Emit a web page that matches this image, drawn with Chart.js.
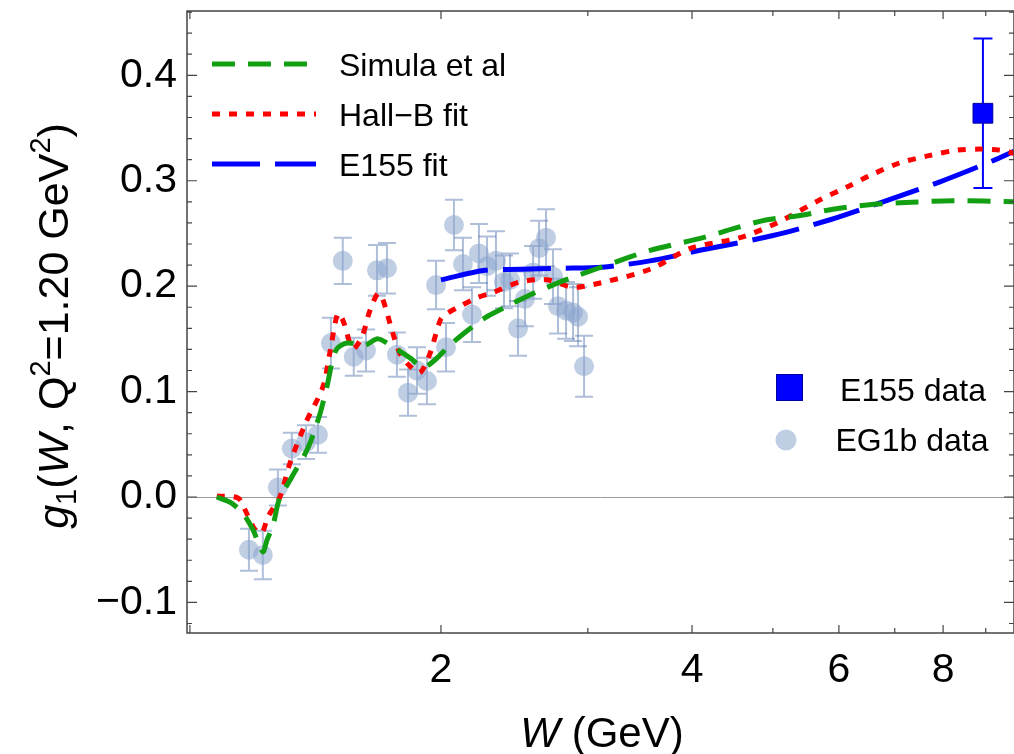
<!DOCTYPE html>
<html>
<head>
<meta charset="utf-8">
<script src="https://cdn.jsdelivr.net/npm/chart.js@4.4.0/dist/chart.umd.min.js"></script>
<style>
  html, body { margin: 0; padding: 0; background: #fff; }
  canvas { display: block; }
</style>
</head>
<body>
<canvas id="chart" width="1014" height="754"></canvas>
<script>
const FONT = '"Liberation Sans", Arial, sans-serif';

// EG1b data (W in GeV, g1, stat error)
const eg1bW = [1.177, 1.223, 1.275, 1.325, 1.378, 1.424, 1.476, 1.525, 1.572, 1.626,
  1.676, 1.723, 1.771, 1.826, 1.872, 1.924, 1.973, 2.028, 2.073, 2.125,
  2.179, 2.221, 2.271, 2.328, 2.380, 2.420, 2.474, 2.522, 2.579, 2.622,
  2.673, 2.725, 2.763, 2.825, 2.880, 2.920, 2.969];
const eg1bG1 = [-0.050, -0.055, 0.009, 0.046, 0.052, 0.059, 0.146, 0.224, 0.133, 0.139,
  0.215, 0.217, 0.135, 0.099, 0.120, 0.110, 0.201, 0.142, 0.258, 0.221,
  0.173, 0.231, 0.219, 0.224, 0.204, 0.206, 0.160, 0.188, 0.213, 0.236,
  0.246, 0.209, 0.181, 0.177, 0.175, 0.171, 0.124];
const eg1bErr = [0.020, 0.023, 0.017, 0.015, 0.016, 0.017, 0.024, 0.022, 0.018, 0.020,
  0.024, 0.024, 0.021, 0.022, 0.022, 0.022, 0.023, 0.023, 0.024, 0.025,
  0.026, 0.028, 0.028, 0.028, 0.025, 0.025, 0.026, 0.026, 0.025, 0.026,
  0.027, 0.026, 0.026, 0.027, 0.027, 0.028, 0.029];

// E155 data
const e155W = [8.93];
const e155G1 = [0.364];
const e155Err = [0.071];

// model curves
const simulaW = [1.077, 1.123, 1.161, 1.190, 1.223, 1.237, 1.258, 1.279, 1.325, 1.386,
  1.431, 1.459, 1.496, 1.543, 1.621, 1.681, 1.761, 1.836, 1.903, 1.967,
  2.050, 2.137, 2.258, 2.387, 2.579, 2.801, 3.086, 3.351, 3.562, 4.123,
  4.504, 4.920, 5.389, 5.904, 6.485, 7.102, 8.222, 9.73];
const simulaG1 = [0.000, -0.006, -0.017, -0.031, -0.052, -0.041, -0.027, -0.003, 0.019, 0.047,
  0.078, 0.104, 0.139, 0.146, 0.144, 0.150, 0.141, 0.132, 0.123, 0.130,
  0.144, 0.156, 0.170, 0.180, 0.193, 0.205, 0.217, 0.227, 0.234, 0.246,
  0.255, 0.263, 0.267, 0.273, 0.277, 0.279, 0.281, 0.280];

const hallBW = [1.077, 1.142, 1.164, 1.197, 1.220, 1.240, 1.282, 1.318, 1.378, 1.443,
  1.471, 1.504, 1.525, 1.568, 1.608, 1.644, 1.681, 1.704, 1.747, 1.786,
  1.836, 1.887, 1.940, 1.997, 2.033, 2.096, 2.209, 2.309, 2.488, 2.680,
  2.880, 3.103, 3.562, 3.989, 4.566, 5.058, 5.695, 6.137, 6.539, 7.102,
  7.716, 8.314, 8.858, 9.361, 9.73];
const hallBG1 = [0.001, -0.001, -0.012, -0.031, -0.034, -0.019, 0.000, 0.032, 0.071, 0.104,
  0.136, 0.174, 0.168, 0.141, 0.152, 0.177, 0.193, 0.187, 0.158, 0.136,
  0.124, 0.118, 0.136, 0.168, 0.174, 0.180, 0.189, 0.194, 0.204, 0.206,
  0.199, 0.203, 0.216, 0.236, 0.246, 0.260, 0.282, 0.294, 0.305, 0.317,
  0.324, 0.329, 0.330, 0.329, 0.326];

const e155FitW = [2.000, 2.258, 2.488, 2.778, 3.120, 3.562, 4.089, 5.002, 5.855, 6.777,
  7.932, 9.181, 9.73];
const e155FitG1 = [0.206, 0.215, 0.216, 0.217, 0.218, 0.224, 0.234, 0.248, 0.263, 0.280,
  0.299, 0.319, 0.328];

// axes
const xTicks = [2, 4, 6, 8];
const xTickMarks = [1, 2, 4, 6, 8];
const xMinorMarks = [3, 5, 7, 9];
const yTicks = [-0.1, 0.0, 0.1, 0.2, 0.3, 0.4];
const yMinorStep = 0.02;

function pts(xs, ys) {
  return xs.map((x, i) => ({ x: x, y: ys[i] }));
}

const errorBars = {
  id: 'errorBars',
  beforeDatasetsDraw(chart) {
    const { ctx, chartArea, scales: { x, y } } = chart;
    ctx.save();
    // zero line
    ctx.strokeStyle = '#9a9a9a';
    ctx.lineWidth = 1;
    ctx.beginPath();
    ctx.moveTo(chartArea.left, Math.round(y.getPixelForValue(0)) + 0.5);
    ctx.lineTo(chartArea.right, Math.round(y.getPixelForValue(0)) + 0.5);
    ctx.stroke();

    const draw = (ws, vs, es, color, width, cap) => {
      ctx.strokeStyle = color;
      ctx.lineWidth = width;
      ws.forEach((w, i) => {
        const px = x.getPixelForValue(w);
        const top = y.getPixelForValue(vs[i] + es[i]);
        const bot = y.getPixelForValue(vs[i] - es[i]);
        ctx.beginPath();
        ctx.moveTo(px, top); ctx.lineTo(px, bot);
        ctx.moveTo(px - cap, top); ctx.lineTo(px + cap, top);
        ctx.moveTo(px - cap, bot); ctx.lineTo(px + cap, bot);
        ctx.stroke();
      });
    };
    draw(eg1bW, eg1bG1, eg1bErr, 'rgba(95,125,180,0.5)', 2, 9);
    draw(e155W, e155G1, e155Err, '#0000ff', 2, 9.5);
    ctx.restore();
  }
};

const frame = {
  id: 'frame',
  afterDatasetsDraw(chart) {
    const { ctx, chartArea: a, scales: { x, y } } = chart;
    ctx.save();
    ctx.strokeStyle = '#444';
    ctx.lineWidth = 1.5;
    ctx.strokeRect(a.left, a.top, a.right - a.left, a.bottom - a.top);
    ctx.lineWidth = 1.2;
    ctx.beginPath();
    const xMark = (v, len) => {
      const px = x.getPixelForValue(v);
      ctx.moveTo(px, a.bottom); ctx.lineTo(px, a.bottom - len);
      ctx.moveTo(px, a.top); ctx.lineTo(px, a.top + len);
    };
    xTickMarks.forEach(v => xMark(v, 8));
    xMinorMarks.forEach(v => xMark(v, 5));
    for (let k = -6; k <= 23; k++) {
      const v = k * yMinorStep;
      const py = y.getPixelForValue(v);
      const len = (k % 5 === 0) ? 10 : 5;
      ctx.moveTo(a.left, py); ctx.lineTo(a.left + len, py);
      ctx.moveTo(a.right, py); ctx.lineTo(a.right - len, py);
    }
    ctx.stroke();

    // x tick labels (Chart.js ones would pad the right edge)
    ctx.fillStyle = '#000';
    ctx.font = '41px ' + FONT;
    ctx.textAlign = 'center';
    ctx.textBaseline = 'alphabetic';
    xTicks.forEach(v => ctx.fillText(String(v), x.getPixelForValue(v), a.bottom + 49));
    ctx.restore();
  }
};

function drawRuns(ctx, runs, x, y, align) {
  let total = 0;
  runs.forEach(r => {
    ctx.font = (r.italic ? 'italic ' : '') + r.size + 'px ' + FONT;
    r.w = ctx.measureText(r.t).width;
    total += r.w;
  });
  let cx = align === 'center' ? x - total / 2 : x;
  runs.forEach(r => {
    ctx.font = (r.italic ? 'italic ' : '') + r.size + 'px ' + FONT;
    ctx.fillText(r.t, cx, y + (r.dy || 0));
    cx += r.w;
  });
}

const labels = {
  id: 'labels',
  afterDraw(chart) {
    const { ctx } = chart;
    const ds = chart.data.datasets;
    ctx.save();
    ctx.fillStyle = '#000';
    ctx.textAlign = 'left';
    ctx.textBaseline = 'alphabetic';

    // x title
    drawRuns(ctx, [
      { t: 'W', size: 42, italic: true },
      { t: ' (GeV)', size: 42 }
    ], 602, 747, 'center');

    // y title, rotated
    ctx.translate(68, 326);
    ctx.rotate(-Math.PI / 2);
    drawRuns(ctx, [
      { t: 'g', size: 43, italic: true },
      { t: '1', size: 29, dy: 8 },
      { t: '(', size: 43 },
      { t: 'W', size: 43, italic: true },
      { t: ', Q', size: 43 },
      { t: '2', size: 29, dy: -18 },
      { t: '=1.20 GeV', size: 43 },
      { t: '2', size: 29, dy: -18 },
      { t: ')', size: 43 }
    ], 0, 0, 'center');
    ctx.setTransform(1, 0, 0, 1, 0, 0);

    // line legend, top left
    const lineRows = [[1, 64], [2, 114], [3, 164]];
    lineRows.forEach(([i, yy]) => {
      const d = ds[i];
      ctx.strokeStyle = d.borderColor;
      ctx.lineWidth = d.borderWidth;
      ctx.setLineDash(d.borderDash);
      ctx.beginPath();
      ctx.moveTo(212, yy); ctx.lineTo(316, yy);
      ctx.stroke();
      ctx.setLineDash([]);
      ctx.font = '32px ' + FONT;
      ctx.fillText(d.label, 339, yy + 12);
    });

    // marker legend, right
    ctx.fillStyle = ds[0].backgroundColor;
    ctx.strokeStyle = ds[0].borderColor;
    ctx.lineWidth = 1;
    ctx.fillRect(776, 374, 27, 27);
    ctx.strokeRect(776.5, 374.5, 26, 26);
    ctx.fillStyle = ds[4].backgroundColor;
    ctx.beginPath();
    ctx.arc(786, 440, 10.5, 0, Math.PI * 2);
    ctx.fill();
    ctx.fillStyle = '#000';
    ctx.textAlign = 'center';
    ctx.font = '32px ' + FONT;
    ctx.fillText(ds[0].label, 913, 401);
    ctx.fillText(ds[4].label, 912, 451);
    ctx.restore();
  }
};

new Chart(document.getElementById('chart').getContext('2d'), {
  type: 'scatter',
  data: {
    datasets: [
      {
        label: 'E155 data',
        data: pts(e155W, e155G1),
        pointStyle: 'rect',
        pointRadius: 14,
        backgroundColor: '#0000ff',
        borderColor: '#0000a0',
        borderWidth: 1,
        order: 0
      },
      {
        label: 'Simula et al',
        data: pts(simulaW, simulaG1),
        showLine: true,
        pointRadius: 0,
        borderColor: '#12a012',
        borderWidth: 5,
        borderDash: [23, 13],
        tension: 0.3,
        order: 1
      },
      {
        label: 'Hall\u2212B fit',
        data: pts(hallBW, hallBG1),
        showLine: true,
        pointRadius: 0,
        borderColor: '#ff0000',
        borderWidth: 5,
        borderDash: [8, 9],
        tension: 0.3,
        order: 1
      },
      {
        label: 'E155 fit',
        data: pts(e155FitW, e155FitG1),
        showLine: true,
        pointRadius: 0,
        borderColor: '#0000ff',
        borderWidth: 5,
        borderDash: [48, 15],
        tension: 0.3,
        order: 1
      },
      {
        label: 'EG1b data',
        data: pts(eg1bW, eg1bG1),
        pointRadius: 10,
        borderWidth: 0,
        backgroundColor: 'rgba(140,165,205,0.55)',
        order: 3
      }
    ]
  },
  options: {
    responsive: false,
    animation: false,
    layout: { autoPadding: false, padding: { top: 11, right: 0, left: 0, bottom: 0 } },
    plugins: { legend: { display: false }, tooltip: { enabled: false } },
    scales: {
      x: {
        type: 'logarithmic',
        min: 0.992,
        max: 9.73,
        afterBuildTicks: s => { s.ticks = xTicks.map(v => ({ value: v })); },
        afterFit: s => { s.height = 121; s.paddingLeft = 0; s.paddingRight = 0; },
        grid: { display: false, drawTicks: false },
        border: { display: false },
        ticks: { display: false }
      },
      y: {
        min: -0.129,
        max: 0.461,
        afterBuildTicks: s => { s.ticks = yTicks.map(v => ({ value: v })); },
        afterFit: s => { s.width = 187; s.paddingTop = 0; s.paddingBottom = 0; },
        grid: { display: false, drawTicks: false },
        border: { display: false },
        ticks: {
          padding: 10,
          color: '#000',
          font: { family: FONT, size: 41 },
          callback: v => (v < 0 ? '\u2212' : '') + Math.abs(v).toFixed(1)
        }
      }
    }
  },
  plugins: [errorBars, frame, labels]
});
</script>
</body>
</html>
